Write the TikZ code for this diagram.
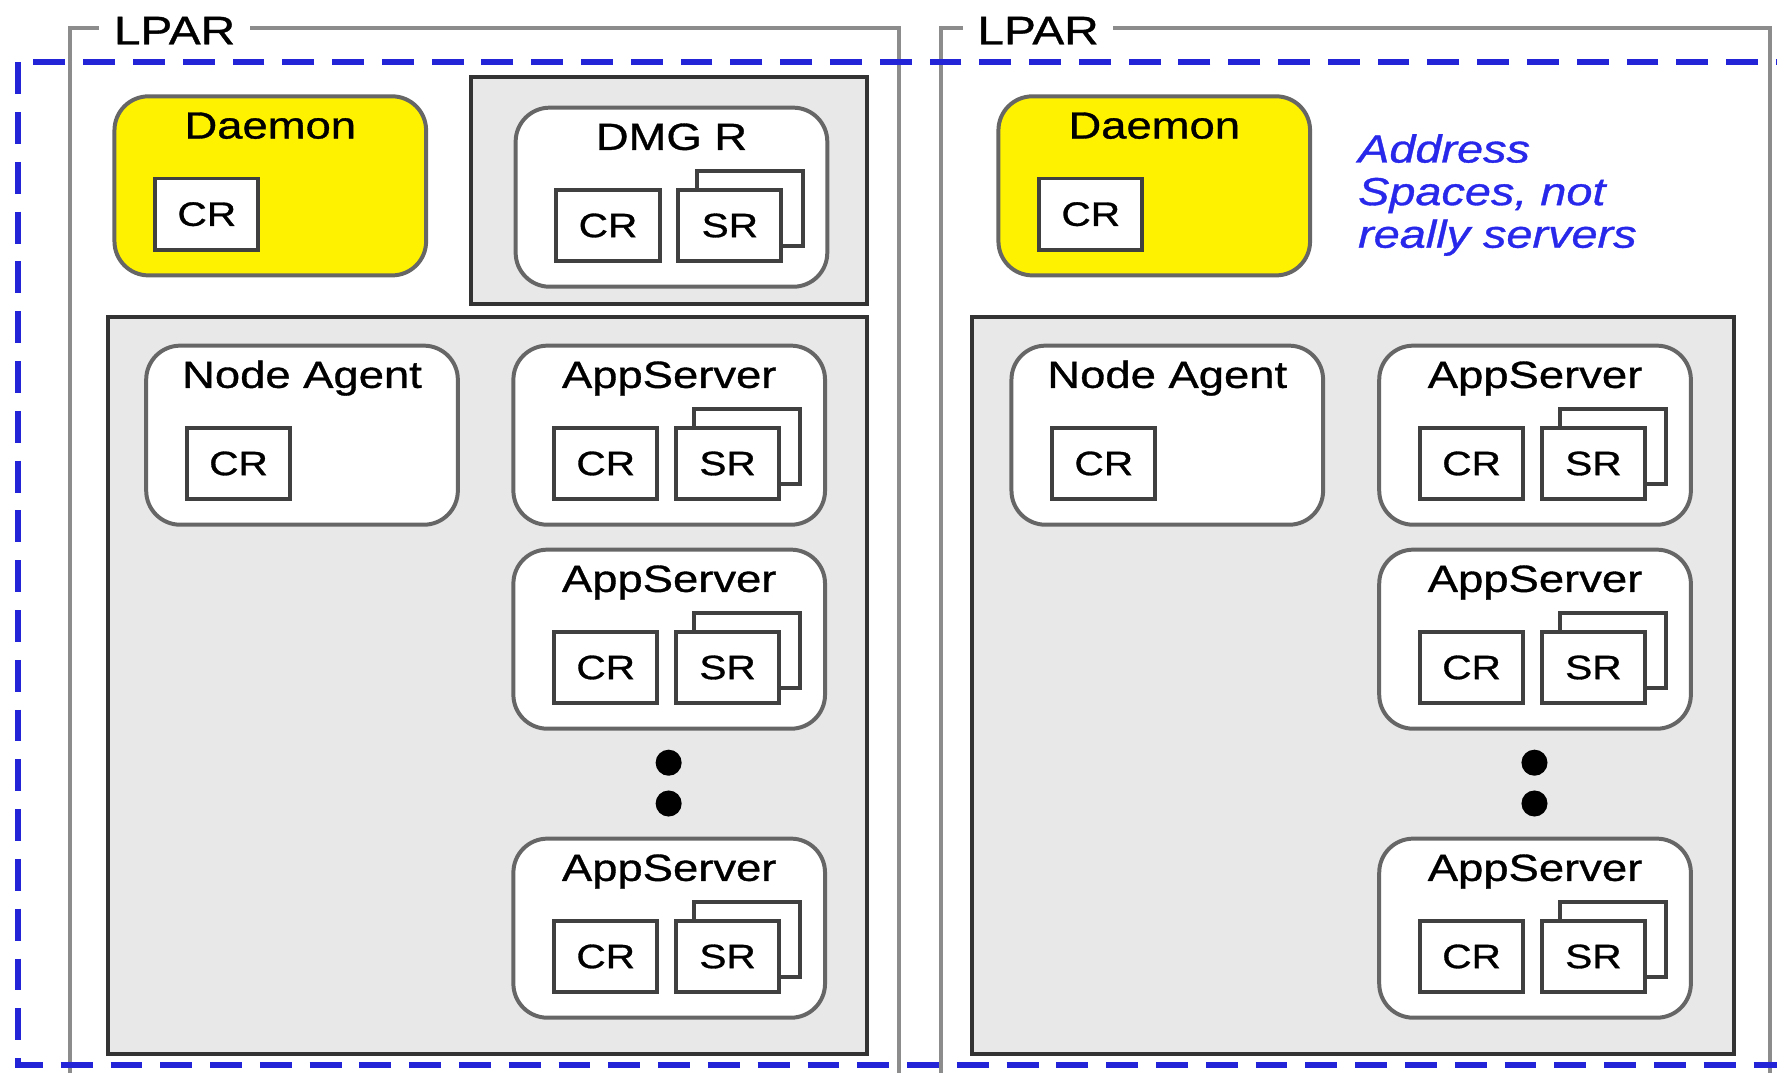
\documentclass[tikz,border=0pt]{standalone}
\usepackage{fontspec}
\setsansfont{Liberation Sans}[FakeStretch=1.2, FakeBold=0.9]
\usetikzlibrary{positioning}

\begin{document}
\begin{tikzpicture}[x=0.1mm, y=-0.1mm,
        lpar/.style={draw=black!45, line width=1pt},
        lpartitle/.style={fill=white, inner xsep=1.3mm, inner ysep=0.6mm,
            font=\sffamily\fontsize{10}{12}\selectfont},
        cell/.style={draw={rgb,255:red,35;green,35;blue,215}, line width=1.5pt,
            dash pattern=on 8pt off 4.5pt},
        group/.style={draw=black!80, fill=black!9, line width=1pt,
            inner sep=0pt},
        srv/.style={draw=black!60, fill=white, line width=1pt,
            rounded corners=3mm, minimum width=27.5mm, minimum height=15.8mm},
        ttl/.style={font=\sffamily\fontsize{9.5}{11}\selectfont},
        reg/.style={draw=black!75, fill=white, line width=1pt, inner sep=0pt,
            minimum width=9.1mm, minimum height=6.3mm,
            font=\sffamily\fontsize{8.5}{10}\selectfont},
        regline/.style={draw=black!75, line width=1pt},
        dot/.style={circle, fill=black, inner sep=0pt, minimum size=2.3mm},
        note/.style={text={rgb,255:red,40;green,40;blue,235}, align=left,
            font=\sffamily\itshape\fontsize{9.8}{10.7}\selectfont}
    ]
    \useasboundingbox (0,0) rectangle (1568,946);
    \clip (0,0) rectangle (1568,946);

    % LPAR frames
    \draw[lpar] (62,25) rectangle (793,990);
    \draw[lpar] (830,25) rectangle (1562,990);
    \node[lpartitle] (lparL) at (154,27) {LPAR};
    \node[lpartitle] (lparR) at (916,27) {LPAR};

    % gray groups
    \node[group, minimum width=34.9mm, minimum height=20mm] (dmgrbox) at (590.5,168) {};
    \node[group, minimum width=67mm, minimum height=65mm] (grpL) at (430,605) {};
    \node[group, minimum width=67.2mm, minimum height=65mm] (grpR) at (1194,605) {};

    % boxes with a CR only
    \foreach \n/\x/\y/\t/\f in {dL/238.5/164/Daemon/yellow, dR/1018.5/164/Daemon/yellow,
            naL/266.5/384/Node Agent/white, naR/1030/384/Node Agent/white}
    {
        \node[srv, fill=\f] (\n) at (\x,\y) {};
        \node[ttl, anchor=base] (\n-t) at ([yshift=-3.9mm]\n.north) {\t};
        \node[reg] (\n-cr) at ([xshift=-5.6mm, yshift=-2.5mm]\n.center) {CR};
    }

    % boxes with CR and SR
    \foreach \n/\x/\y/\t in {dmgr/592.5/174/DMG R,
            aL1/590.5/384/AppServer, aL2/590.5/564/AppServer, aL3/590.5/819/AppServer,
            aR1/1354.5/384/AppServer, aR2/1354.5/564/AppServer, aR3/1354.5/819/AppServer}
    {
        \node[srv] (\n) at (\x,\y) {};
        \node[ttl, anchor=base] (\n-t) at ([yshift=-3.9mm]\n.north) {\t};
        \node[reg] (\n-cr) at ([xshift=-5.6mm, yshift=-2.5mm]\n.center) {CR};
        \node[reg, right=1.3mm of \n-cr] (\n-sr) {SR};
        \draw[regline] ([xshift=1.8mm]\n-sr.north west) -- ++(0,-15)
            -| ([xshift=1.7mm, yshift=1.5mm]\n-sr.south east)
            -- ([yshift=1.5mm]\n-sr.south east);
    }

    % more servers
    \node[dot] (dL1) at (590,673) {};
    \node[dot] (dL2) at (590,709) {};
    \node[dot] (dR1) at (1354,673) {};
    \node[dot] (dR2) at (1354,709) {};

    \node[note, anchor=north west] (addr) at (1186,106)
        {Address\\Spaces, not\\really servers};

    % cell boundary
    \draw[cell] (16,55) rectangle (1590,940);
\end{tikzpicture}
\end{document}
